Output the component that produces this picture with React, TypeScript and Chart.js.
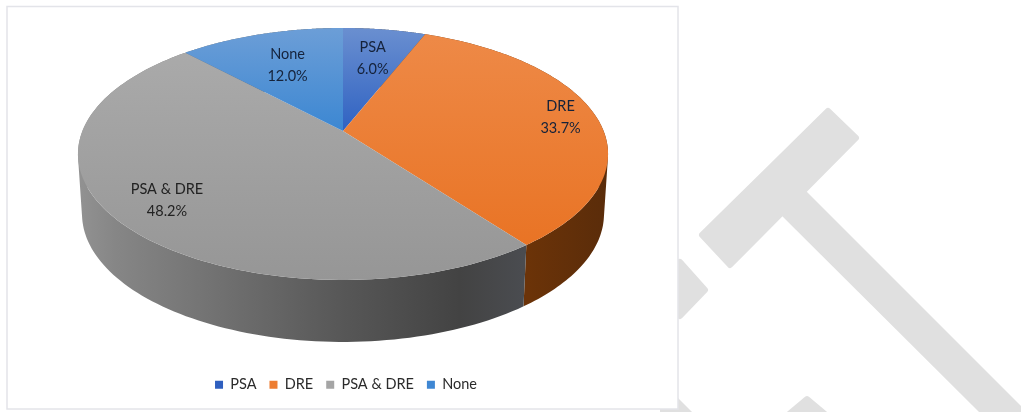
import React, { useEffect, useRef } from "react";
import { Chart, registerables } from "chart.js";

Chart.register(...registerables);

const categories = ["PSA", "DRE", "PSA & DRE", "None"];
const shares = [6.0, 33.7, 48.2, 12.0];
const legendColors = ["#2f5fbf", "#ed7d31", "#a5a5a5", "#3f87d3"];

// top-face shading (far edge colour, near edge colour) per slice
const faceShades = [
  ["#6a8fd0", "#2f62c2"],
  ["#ee8a48", "#e8701f"],
  ["#acacac", "#969696"],
  ["#6c9ed7", "#3c87d2"],
];
const labelDepth = [0.68, 0.86, 0.8, 0.64];
const FONT = "Lato, 'Open Sans', sans-serif";

// Perspective of the tilted disc: unit circle -> page
const K = 0.1825;
const CX = 343;
const project = (a: number, r: number, rimX: number, rimY: number, cy: number) => {
  const u = Math.cos(a) * r;
  const v = Math.sin(a) * r;
  const d = 1 - K * v;
  return [CX + (rimX * u) / d, cy + (rimY * v) / d];
};
const top = (a: number, r = 1) => project(a, r, 260.6, 121.8, 131);
const low = (a: number) => project(a, 1, 256.6, 123.7, 190.6);

const pie3d = {
  id: "pie3d",
  beforeDraw(chart: any) {
    const { ctx } = chart;
    ctx.save();
    ctx.fillStyle = "#ffffff";
    ctx.strokeStyle = "#e3e4e9";
    ctx.lineWidth = 1.5;
    ctx.fillRect(7, 6.5, 671, 402.5);
    ctx.strokeRect(7, 6.5, 671, 402.5);
    ctx.restore();
  },
  beforeDatasetsDraw(chart: any) {
    const { ctx } = chart;
    const arcs = chart.getDatasetMeta(0).data;
    const n = 120;
    const at = (el: any, i: number) => el.startAngle + ((el.endAngle - el.startAngle) * i) / n;
    ctx.save();
    // side wall: the union of consistently wound quads between the two rims
    arcs.forEach((el: any, i: number) => {
      const wall = ctx.createLinearGradient(78, 0, 608, 0);
      if (i === 1) {
        wall.addColorStop(0, "#63300c");
        wall.addColorStop(0.85, "#6b3308");
        wall.addColorStop(1, "#5a2c0a");
      } else {
        wall.addColorStop(0, "#929292");
        wall.addColorStop(0.07, "#868686");
        wall.addColorStop(0.3, "#6d6d6d");
        wall.addColorStop(0.5, "#575757");
        wall.addColorStop(0.72, "#434343");
        wall.addColorStop(0.84, "#4a4c50");
        wall.addColorStop(1, "#4a4c50");
      }
      ctx.fillStyle = wall;
      ctx.beginPath();
      for (let s = 0; s < n; s++) {
        const a = at(el, s);
        const b = at(el, s + 1);
        const quad = [top(a), top(b), low(b), low(a)];
        let area = 0;
        quad.forEach((p, j) => {
          const q = quad[(j + 1) % 4];
          area += p[0] * q[1] - q[0] * p[1];
        });
        if (area < 0) quad.reverse();
        ctx.moveTo(quad[0][0], quad[0][1]);
        quad.slice(1).forEach((p) => ctx.lineTo(p[0], p[1]));
        ctx.closePath();
      }
      ctx.fill("nonzero");
    });
    // top face
    arcs.forEach((el: any, i: number) => {
      const g = ctx.createLinearGradient(0, 28, 0, 280);
      const near = i === 0 || i === 3 ? 0.41 : 1;
      g.addColorStop(0, faceShades[i][0]);
      g.addColorStop(near, faceShades[i][1]);
      ctx.fillStyle = g;
      ctx.beginPath();
      ctx.moveTo(CX, 131);
      for (let s = 0; s <= n; s++) {
        const p = top(at(el, s));
        ctx.lineTo(p[0], p[1]);
      }
      ctx.closePath();
      ctx.fill();
    });
    // data labels
    ctx.font = `14.5px ${FONT}`;
    ctx.textAlign = "center";
    ctx.textBaseline = "middle";
    arcs.forEach((el: any, i: number) => {
      const mid = (el.startAngle + el.endAngle) / 2;
      const p = top(mid, labelDepth[i]);
      ctx.fillStyle = i === 2 ? "#222222" : "#15223a";
      ctx.fillText(categories[i], p[0], p[1] - 11);
      ctx.fillText(`${shares[i].toFixed(1)}%`, p[0], p[1] + 11);
    });
    ctx.restore();
    return false;
  },
};

export default function App() {
  const ref = useRef<HTMLCanvasElement>(null);
  useEffect(() => {
    const chart = new Chart(ref.current as HTMLCanvasElement, {
      type: "pie",
      data: {
        labels: categories,
        datasets: [{ data: shares, backgroundColor: legendColors, borderWidth: 0 }],
      },
      options: {
        animation: false,
        responsive: false,
        devicePixelRatio: 1,
        layout: { padding: { bottom: 10 } },
        plugins: {
          tooltip: { enabled: false },
          legend: {
            position: "bottom",
            labels: {
              boxWidth: 8,
              boxHeight: 8,
              padding: 13,
              color: "#2b2b2b",
              font: { family: FONT, size: 14.5 },
            },
          },
        },
      },
      plugins: [pie3d],
    } as any);
    return () => chart.destroy();
  }, []);
  return (
    <div style={{ position: "fixed", left: 0, top: 0, width: 1021, height: 412, overflow: "hidden", background: "#fff" }}>
      <svg width={1021} height={412} style={{ position: "absolute", left: 0, top: 0 }}>
        <g fill="#e0e0e0" stroke="#e0e0e0" strokeWidth={6} strokeLinejoin="round">
          <polygon points="828,111 856,138 730,265 702,235" />
          <polygon points="680,262 705,290 680,316 660,290" />
          <polygon points="788,415 807,399 826,415" />
        </g>
        <g fill="#e0e0e0">
          <polygon points="800,185 1021,406 1021,412 979,412 775,209" />
          <polygon points="660,380 692,412 660,412" />
        </g>
      </svg>
      <canvas
        ref={ref}
        width={692}
        height={412}
        style={{ position: "absolute", left: 0, top: 0, width: 692, height: 412, filter: "blur(0.5px)" }}
      />
    </div>
  );
}
